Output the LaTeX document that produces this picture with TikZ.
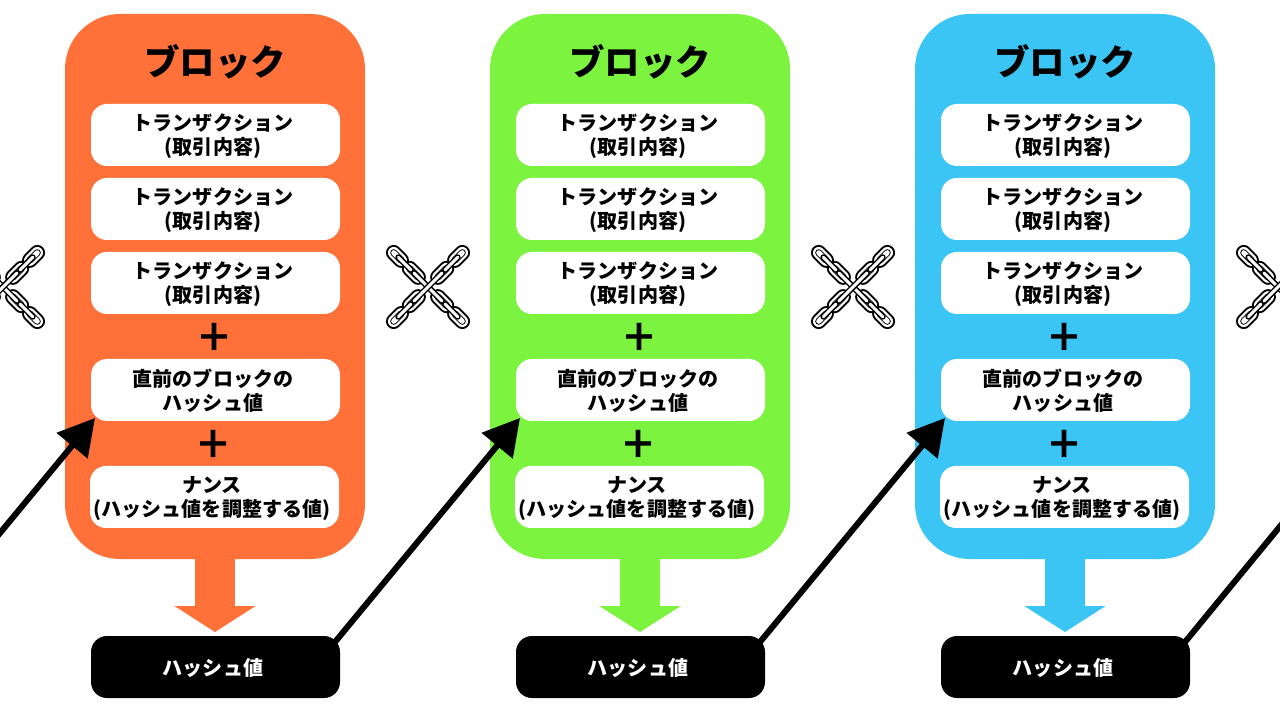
\documentclass[tikz,border=0pt]{standalone}
\usepackage{fontspec}
\usetikzlibrary{arrows.meta,positioning,calc}
\newfontfamily\jpfont{Noto Sans CJK JP}[BoldFont={Noto Sans CJK JP Black}]
\newfontfamily\plusfont{Noto Sans CJK JP Medium}
\definecolor{blockOrange}{HTML}{FF7139}
\definecolor{blockGreen}{HTML}{7BF33F}
\definecolor{blockBlue}{HTML}{3AC5F5}
% one link of the chain, seen from the front or from the side
\newcommand{\faceLink}[2]{
    \foreach \w/\c in {.155/black,.115/white,.07/black,.05/white}
        \draw[line width=\w cm,\c,line cap=round] (#1,0) -- (#2,0);
}
\newcommand{\edgeLink}[2]{
    \foreach \w/\c in {.06/black,.03/white}
        \draw[line width=\w cm,\c,line cap=round] (#1,0) -- (#2,0);
}
\tikzset{
    chaincross/.pic={
            \foreach \a in {45,135,225,315} {
                    \begin{scope}[rotate=\a]
                        \faceLink{.14}{.26}
                        \faceLink{.38}{.485}
                        \edgeLink{.24}{.42}
                    \end{scope}
                }
            \begin{scope}[rotate=135]
                \edgeLink{-.2}{.2}
            \end{scope}
            \begin{scope}[rotate=45]
                \edgeLink{-.2}{.2}
            \end{scope}
        }
}

\begin{document}
\begin{tikzpicture}[
            node distance=.12cm,
            block/.style={
                    rectangle,
                    rounded corners=.55cm,
                    minimum width=3cm,
                    minimum height=5.45cm,
                    inner sep=0pt,
                    outer sep=0pt
                },
            title/.style={
                    inner sep=0pt,
                    font=\jpfont\bfseries\fontsize{10.1}{12}\selectfont
                },
            entry/.style={
                    rectangle,
                    rounded corners=.16cm,
                    fill=white,
                    text width=2.49cm,
                    minimum height=.62cm,
                    inner sep=0pt,
                    outer sep=0pt,
                    font=\jpfont\bfseries\fontsize{5.7}{6.83}\selectfont,
                    execute at begin node={\lineskiplimit=-20pt\leftskip=0pt plus 1fil\rightskip=.05cm plus 1fil\parfillskip=0pt\relax\rule{0pt}{5.35pt}}
                },
            hash/.style={
                    entry,
                    fill=black,
                    text=white
                },
            plussign/.style={
                    inner sep=0pt,
                    xshift=-.01cm,
                    yshift=-.035cm,
                    font=\plusfont\fontsize{15}{15}\selectfont
                },
            bigarrow/.style={
                    -{Triangle[length=.26cm,width=.8cm]},
                    line width=.4cm,
                    shorten >=.04cm
                },
            arrow/.style={
                    -{Triangle[length=.36cm,width=.39cm]},
                    line width=.06cm
                }
        ]
    \path[use as bounding box,clip] (0,0) rectangle (12.8,-7.2);
    \fill[white] (0,0) rectangle (12.8,-7.2);

    % Blocs
    \foreach \i/\x/\clr in {1/2.15/blockOrange,2/6.4/blockGreen,3/10.65/blockBlue} {
            \node[block, fill=\clr] (block\i) at (\x,-2.865) {};
            \node[title] (title\i) at ([yshift=-.48cm]block\i.north) {ブロック};
            \node[entry, below=.9cm of block\i.north, xshift=.005cm] (trans\i) {トランザクション\\(取引内容)};
            \node[entry, below=of trans\i] (transb\i) {トランザクション\\(取引内容)};
            \node[entry, below=of transb\i] (transc\i) {トランザクション\\(取引内容)};
            \node[entry, below=.45cm of transc\i] (prev\i) {直前のブロックの\\ハッシュ値};
            \node[entry, below=.45cm of prev\i, xshift=-.01cm] (nonce\i) {ナンス\\(ハッシュ値を調整する値)};
            \node[plussign] (plusa\i) at ($(transc\i.south)!.5!(prev\i.north)$) {+};
            \node[plussign] (plusb\i) at ($(prev\i.south)!.5!(nonce\i.north)$) {+};
            \node[hash, below=.77cm of block\i.south, xshift=.005cm] (hash\i) {ハッシュ値};
            \draw[bigarrow, \clr] (block\i.south) -- (block\i.south |- hash\i.north);
        }

    % Chaines
    \foreach \x in {.03,4.28,8.53,12.78} {
            \pic at (\x,-2.87) {chaincross};
        }

    % Fleches entre blocs
    \coordinate (hash0) at (-.9,-6.42);
    \coordinate (prev4) at (13.6,-4.29);
    \draw[arrow] (hash0) -- ([shift={(.04,.03)}]prev1.south west);
    \draw[arrow] ([shift={(-.05,-.06)}]hash1.north east) -- ([shift={(.04,.03)}]prev2.south west);
    \draw[arrow] ([shift={(-.05,-.06)}]hash2.north east) -- ([shift={(.04,.03)}]prev3.south west);
    \draw[line width=.06cm] ([shift={(-.05,-.06)}]hash3.north east) -- (prev4);
\end{tikzpicture}
\end{document}
